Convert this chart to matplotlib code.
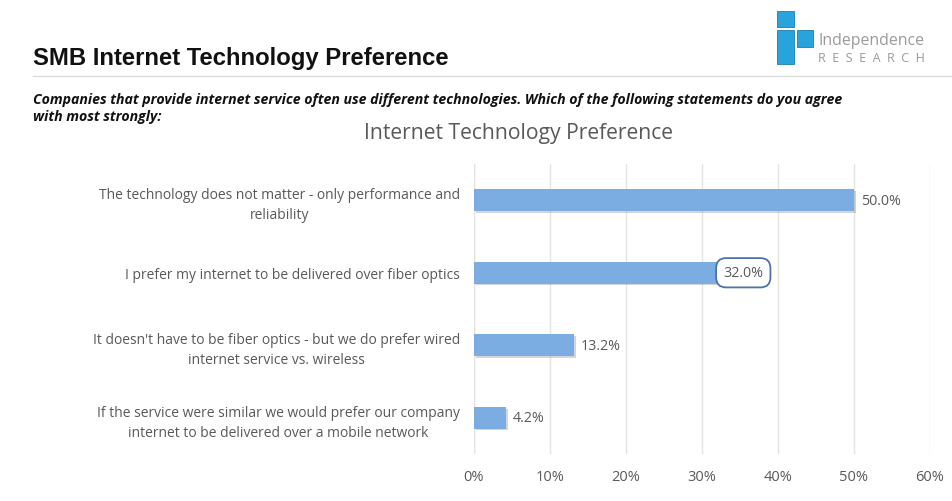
import matplotlib.pyplot as plt
import matplotlib.patches as mpatches
import matplotlib.patheffects as pe
from matplotlib.ticker import FuncFormatter

categories = [
    "The technology does not matter - only performance and\nreliability",
    "I prefer my internet to be delivered over fiber optics",
    "It doesn't have to be fiber optics - but we do prefer wired\ninternet service vs. wireless",
    "If the service were similar we would prefer our company\ninternet to be delivered over a mobile network",
]
values = [50.0, 32.0, 13.2, 4.2]
xticks = [0, 10, 20, 30, 40, 50, 60]
subtitle_lines = [
    "Companies that provide internet service often use different technologies. Which of the following statements do you agree",
    "with most strongly:",
]

W, H = 953, 502
fig = plt.figure(figsize=(W / 100, H / 100), dpi=100)
fig.patch.set_facecolor("white")

# header
fig.text(33 / W, 1 - 58 / H, "SMB Internet Technology Preference", fontsize=17.2,
         fontweight="bold", family="Liberation Sans", color="#111111", va="center")
fig.add_artist(plt.Line2D([33 / W, 953 / W], [1 - 77 / H, 1 - 77 / H], color="#dddddd", lw=1))
for k, line in enumerate(subtitle_lines):
    fig.text(33 / W, 1 - (100 + 17 * k) / H, line,
             fontsize=10.2, fontweight="bold", style="italic", family="Open Sans",
             color="#111111", va="center")

# logo
logo_blue = "#29a3dc"
for (x0, y0, w, h) in [(777, 12, 17, 16), (777, 31, 17, 34), (797, 31, 16, 17)]:
    fig.add_artist(mpatches.Rectangle((x0 / W, 1 - (y0 + h) / H), w / W, h / H,
                                      facecolor=logo_blue, edgecolor="#1b7fb0", lw=0.6))
fig.text(818 / W, 1 - 41 / H, "Independence", fontsize=11.4, color="#9a9a9a",
         family="Open Sans", va="center")
fig.text(818 / W, 1 - 59 / H, "R  E  S  E  A  R  C  H", fontsize=9.0, color="#9a9a9a",
         family="Open Sans", va="center")

# chart
ax = fig.add_axes([474 / W, 1 - 455 / H, (930 - 474) / W, (455 - 165) / H])
ypos = list(range(len(categories)))
bars = ax.barh(ypos, values, height=0.3, color="#7badE3", zorder=3)
for b in bars:
    b.set_path_effects([pe.SimplePatchShadow(offset=(1.3, -1.3), shadow_rgbFace="#888888", alpha=0.35),
                        pe.Normal()])

for i, v in enumerate(values):
    if i == 1:
        ax.text(v + 0.8, i, f"{v:.1f}%", va="center", ha="left", fontsize=10.3,
                color="#595959", family="Open Sans",
                bbox=dict(boxstyle="round,pad=0.5,rounding_size=0.7", fc="white",
                          ec="#4f6fae", lw=1.3))
    else:
        ax.text(v + 0.9, i, f"{v:.1f}%", va="center", ha="left", fontsize=10.3,
                color="#595959", family="Open Sans")

ax.set_xlim(0, 60)
ax.set_ylim(3.5, -0.5)
ax.set_xticks(xticks)
ax.xaxis.set_major_formatter(FuncFormatter(lambda x, p: f"{x:.0f}%"))
ax.set_yticks(ypos)
ax.set_yticklabels(categories, fontsize=10, color="#595959", family="Open Sans",
                   multialignment="center", linespacing=1.45)
ax.tick_params(axis="both", length=0)
ax.tick_params(axis="y", pad=10)
ax.tick_params(axis="x", pad=11, labelsize=10.5, labelcolor="#595959")
for lab in ax.get_xticklabels():
    lab.set_family("Open Sans")
ax.grid(axis="x", color="#e3e3e3", lw=1, zorder=0)
for s in ax.spines.values():
    s.set_visible(False)
ax.axvline(0, color="#e3e3e3", lw=1, zorder=1)

fig.text(519 / W, 1 - 133 / H, "Internet Technology Preference", fontsize=15.2,
         color="#595959", family="Open Sans", ha="center", va="center")

fig.savefig("out.png", dpi=100)
